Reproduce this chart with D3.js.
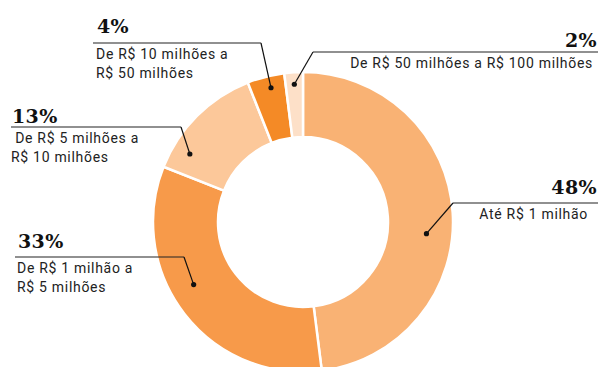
<!DOCTYPE html>
<html>
<head>
<meta charset="utf-8">
<script src="https://cdn.jsdelivr.net/npm/d3@7"></script>
<style>
  html, body { margin: 0; padding: 0; background: #fff; }
  svg { display: block; }
  .pct { font-family: "DejaVu Serif", serif; font-weight: bold; font-size: 19px; letter-spacing: 0.4px; fill: #111; }
  .cat { font-family: Roboto, "Noto Sans", sans-serif; font-size: 14px; letter-spacing: 0.7px; fill: #222; }
</style>
</head>
<body>
<svg id="chart" width="598" height="367"></svg>
<script>
// Faixas de faturamento e participação (%)
const categories = [
  "Até R$ 1 milhão",
  "De R$ 1 milhão a R$ 5 milhões",
  "De R$ 5 milhões a R$ 10 milhões",
  "De R$ 10 milhões a R$ 50 milhões",
  "De R$ 50 milhões a R$ 100 milhões"
];
const values = [48, 33, 13, 4, 2];
const valueLabels = ["48%", "33%", "13%", "4%", "2%"];
const labelLines = [
  ["Até R$ 1 milhão"],
  ["De R$ 1 milhão a", "R$ 5 milhões"],
  [" De R$ 5 milhões a", "R$ 10 milhões"],
  ["De R$ 10 milhões a", "R$ 50 milhões"],
  ["De R$ 50 milhões a R$ 100 milhões"]
];
const colors = ["#f9b274", "#f79a4a", "#fcc89a", "#f48a26", "#fde0c8"];

// Posição de cada rótulo: linha horizontal (x1..x2, y), alinhamento do texto,
// deslocamento vertical do percentual e ponto dentro da fatia
const layout = [
  { x1: 453, x2: 598, y: 203, align: "end",   tx: 588, pctDy: -9,  dotR: 124, dotShift: 9 },
  { x1: 15,  x2: 184, y: 257, align: "start", tx: 17,  pctDy: -9,  dotR: 126, dotShift: 8 },
  { x1: 11,  x2: 181, y: 127, align: "start", tx: 11,  pctDy: -4,  dotR: 132, dotShift: -14 },
  { x1: 93,  x2: 261, y: 43,  align: "start", tx: 96,  pctDy: -10, dotR: 138, dotShift: 1 },
  { x1: 313, x2: 598, y: 52,  align: "end",   tx: 593, pctDy: -5,  dotR: 138, dotShift: 0 }
];

const svg = d3.select("#chart");
const cx = 303, cy = 222, outerR = 150, innerR = 85;
const g = svg.append("g").attr("transform", `translate(${cx},${cy})`);

const pie = d3.pie().sort(null).value(d => d.value);
const arcs = pie(values.map((v, i) => ({ value: v, i })));
const arc = d3.arc().innerRadius(innerR).outerRadius(outerR);

g.selectAll("path.slice")
  .data(arcs)
  .join("path")
  .attr("class", "slice")
  .attr("d", arc)
  .attr("fill", d => colors[d.data.i])
  .attr("stroke", "#fff")
  .attr("stroke-width", 2.5);

const deg = Math.PI / 180;
const labels = svg.append("g");

arcs.forEach((a, i) => {
  const L = layout[i];
  const ang = (a.startAngle + a.endAngle) / 2 + L.dotShift * deg;
  const dx = cx + Math.sin(ang) * L.dotR;
  const dy = cy - Math.cos(ang) * L.dotR;
  const elbowX = L.align === "end" ? L.x1 : L.x2;

  labels.append("line")
    .attr("x1", L.x1).attr("x2", L.x2)
    .attr("y1", L.y).attr("y2", L.y)
    .attr("stroke", "#222").attr("stroke-width", 1.2);

  labels.append("line")
    .attr("x1", elbowX).attr("y1", L.y)
    .attr("x2", dx).attr("y2", dy)
    .attr("stroke", "#111").attr("stroke-width", 1.2);

  labels.append("circle")
    .attr("cx", dx).attr("cy", dy).attr("r", 2.6)
    .attr("fill", "#111");

  labels.append("text")
    .attr("class", "pct")
    .attr("x", L.align === "end" ? 597 : L.tx + 1)
    .attr("y", L.y + L.pctDy)
    .attr("text-anchor", L.align)
    .text(valueLabels[i]);

  labelLines[i].forEach((line, j) => {
    labels.append("text")
      .attr("class", "cat")
      .attr("x", L.tx)
      .attr("y", L.y + 16 + j * 18.5)
      .attr("text-anchor", L.align)
      .attr("xml:space", "preserve")
      .style("white-space", "pre")
      .text(line);
  });
});
</script>
</body>
</html>
